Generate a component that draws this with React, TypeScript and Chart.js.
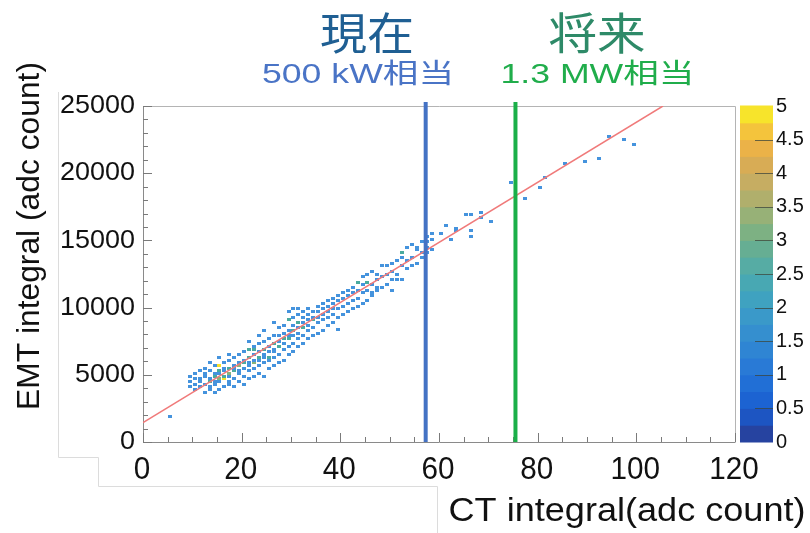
import { useEffect, useRef } from "react";
import { Chart, registerables } from "chart.js";

Chart.register(...registerables);

// ---- axis tick values / labels ----
const xTickValues = [0, 20, 40, 60, 80, 100, 120];
const xTickLabels = ["0", "20", "40", "60", "80", "100", "120"];
const yTickValues = [0, 5000, 10000, 15000, 20000, 25000];
const yTickLabels = ["0", "5000", "10000", "15000", "20000", "25000"];
const zTickValues = [0, 0.5, 1, 1.5, 2, 2.5, 3, 3.5, 4, 4.5, 5];
const zTickLabels = ["0", "0.5", "1", "1.5", "2", "2.5", "3", "3.5", "4", "4.5", "5"];

// colour palette of the z axis (20 contour bands, bottom to top)
const paletteBands = [
  "#2643a0", "#1d55c2", "#1c63d2", "#216fd6", "#297ad6",
  "#2f85d3", "#358fcf", "#3a99c9", "#3fa2c0", "#48a8b3",
  "#56aca4", "#66ae93", "#7db183", "#97b177", "#b0af6c",
  "#c6ad62", "#d8ac55", "#ebb248", "#f4c43c", "#f7e42b",
];
const countColors = ["#ffffff", "#4593dd", "#4aab9f", "#86b47c", "#dfac4c", "#f6e12b"];

// fit line
const fitCT = [0, 105.4];
const fitEMT = [1450, 25000];

// marker lines
const currentCT = 57.3;
const futureCT = 75.5;
const markerTop = 25300;

// 2D histogram bins: [CT integral, EMT integral, entries]
const bins: [number, number, number][] = [
  [5.5, 1900, 1],
  [9.5, 4100, 1], [9.5, 4500, 1], [9.5, 4900, 1],
  [10.5, 3900, 1], [10.5, 4300, 1], [10.5, 4700, 1], [10.5, 5100, 1],
  [11.5, 4100, 1], [11.5, 4500, 1], [11.5, 4700, 1], [11.5, 5300, 1],
  [12.5, 3700, 1], [12.5, 4300, 1], [12.5, 4900, 1], [12.5, 5100, 1], [12.5, 5500, 1],
  [13.5, 3900, 1], [13.5, 4100, 1], [13.5, 4500, 2], [13.5, 4700, 1], [13.5, 5300, 1], [13.5, 5900, 1],
  [14.5, 3700, 1], [14.5, 4300, 1], [14.5, 4500, 1], [14.5, 4900, 2], [14.5, 5100, 1], [14.5, 5700, 1],
  [15.5, 3900, 1], [15.5, 4500, 1], [15.5, 4700, 3], [15.5, 5100, 1], [15.5, 5300, 2], [15.5, 5700, 5], [15.5, 6300, 1],
  [16.5, 4100, 1], [16.5, 4700, 5], [16.5, 4900, 2], [16.5, 5300, 1], [16.5, 5500, 1], [16.5, 5900, 1],
  [17.5, 4300, 1], [17.5, 4500, 1], [17.5, 4900, 1], [17.5, 5100, 3], [17.5, 5500, 2], [17.5, 6100, 1], [17.5, 6500, 1],
  [18.5, 4100, 1], [18.5, 4700, 1], [18.5, 5300, 2], [18.5, 5500, 1], [18.5, 5700, 1], [18.5, 6300, 1],
  [19.5, 4500, 1], [19.5, 5100, 1], [19.5, 5300, 1], [19.5, 5700, 3], [19.5, 5900, 1], [19.5, 6500, 1],
  [20.5, 4300, 1], [20.5, 4900, 1], [20.5, 5500, 1], [20.5, 5900, 2], [20.5, 6100, 1], [20.5, 6700, 1],
  [21.5, 4700, 1], [21.5, 5300, 1], [21.5, 5700, 1], [21.5, 5900, 1], [21.5, 6300, 2], [21.5, 6900, 2], [21.5, 7500, 1],
  [22.5, 4900, 1], [22.5, 5500, 1], [22.5, 5900, 3], [22.5, 6100, 1], [22.5, 6500, 1], [22.5, 6900, 2], [22.5, 7100, 1],
  [23.5, 5100, 1], [23.5, 5700, 1], [23.5, 6100, 1], [23.5, 6300, 2], [23.5, 6700, 1], [23.5, 7300, 1], [23.5, 7900, 1],
  [24.5, 4900, 1], [24.5, 5900, 1], [24.5, 6300, 1], [24.5, 6500, 1], [24.5, 6900, 2], [24.5, 7500, 1], [24.5, 8300, 1],
  [25.5, 5500, 1], [25.5, 6100, 1], [25.5, 6300, 2], [25.5, 6700, 1], [25.5, 7100, 1], [25.5, 7700, 1],
  [26.5, 5700, 1], [26.5, 6300, 1], [26.5, 6700, 1], [26.5, 6900, 1], [26.5, 7300, 2], [26.5, 7900, 1], [26.5, 8900, 1],
  [27.5, 5900, 1], [27.5, 6500, 1], [27.5, 7100, 2], [27.5, 7500, 1], [27.5, 7900, 1], [27.5, 8500, 1],
  [28.5, 6100, 1], [28.5, 6900, 1], [28.5, 7300, 1], [28.5, 7700, 2], [28.5, 8100, 1], [28.5, 8700, 1],
  [29.5, 6500, 1], [29.5, 7100, 1], [29.5, 7700, 2], [29.5, 7900, 1], [29.5, 8300, 1], [29.5, 9100, 2], [29.5, 9700, 1],
  [30.5, 6700, 1], [30.5, 7300, 1], [30.5, 7900, 1], [30.5, 8300, 2], [30.5, 8700, 1], [30.5, 9300, 1], [30.5, 9900, 1],
  [31.5, 7100, 1], [31.5, 7700, 1], [31.5, 8100, 1], [31.5, 8500, 1], [31.5, 8900, 2], [31.5, 9500, 1], [31.5, 9900, 1],
  [32.5, 7300, 1], [32.5, 7900, 1], [32.5, 8500, 2], [32.5, 8900, 1], [32.5, 9300, 1], [32.5, 9700, 1],
  [33.5, 7700, 1], [33.5, 8300, 1], [33.5, 8700, 1], [33.5, 9100, 1], [33.5, 9500, 1], [33.5, 9900, 1],
  [34.5, 7900, 1], [34.5, 8500, 1], [34.5, 9100, 2], [34.5, 9300, 1], [34.5, 9700, 1],
  [35.5, 8100, 1], [35.5, 8900, 1], [35.5, 9300, 1], [35.5, 9700, 1], [35.5, 10100, 1],
  [36.5, 8300, 1], [36.5, 9100, 1], [36.5, 9500, 1], [36.5, 9900, 1], [36.5, 10300, 1],
  [37.5, 8700, 1], [37.5, 9300, 1], [37.5, 9700, 1], [37.5, 10100, 1], [37.5, 10500, 1],
  [38.5, 8900, 1], [38.5, 9500, 1], [38.5, 9900, 1], [38.5, 10300, 1], [38.5, 10700, 1],
  [39.5, 8400, 1], [39.5, 9300, 1], [39.5, 9900, 1], [39.5, 10500, 1], [39.5, 10900, 1],
  [40.5, 9500, 1], [40.5, 10100, 1], [40.5, 10700, 1], [40.5, 11100, 1],
  [41.5, 9700, 1], [41.5, 10300, 1], [41.5, 10900, 1], [41.5, 11300, 1],
  [42.5, 9900, 1], [42.5, 10500, 1], [42.5, 11100, 1], [42.5, 11500, 1],
  [43.5, 10100, 1], [43.5, 10700, 1], [43.5, 11300, 1], [43.5, 11900, 2],
  [44.5, 10300, 1], [44.5, 11100, 1], [44.5, 11700, 1], [44.5, 12300, 1],
  [45.5, 10500, 1], [45.5, 11300, 1], [45.5, 11900, 2], [45.5, 12500, 1],
  [46.5, 10900, 1], [46.5, 11100, 1], [46.5, 11700, 1], [46.5, 12700, 1],
  [47.5, 11300, 1], [47.5, 11500, 1], [47.5, 12100, 1], [47.5, 12500, 1],
  [48.5, 11500, 1], [48.5, 12300, 1], [48.5, 13100, 1],
  [49.5, 11700, 1], [49.5, 12500, 1], [49.5, 13100, 1],
  [50.5, 11300, 1], [50.5, 12100, 1], [50.5, 12700, 1], [50.5, 13300, 1],
  [51.5, 12100, 1], [51.5, 12500, 1], [51.5, 13500, 1],
  [52.5, 12100, 1], [52.5, 13100, 1], [52.5, 13700, 1], [52.5, 14100, 2],
  [53.5, 12900, 1], [53.5, 13500, 1], [53.5, 14500, 1],
  [54.5, 13100, 1], [54.5, 13700, 1], [54.5, 14700, 1],
  [55.5, 13300, 1], [55.5, 14300, 1], [55.5, 14500, 1],
  [56.5, 13700, 1], [56.5, 14100, 1], [56.5, 14900, 1],
  [57.5, 14100, 1], [57.5, 14500, 1], [57.5, 14900, 1], [57.5, 15300, 1],
  [58.5, 14300, 1], [58.5, 15100, 1], [58.5, 15500, 1],
  [60.5, 15500, 1], [61.5, 16100, 1], [62.5, 15100, 1], [63.5, 15700, 1], [63.5, 15900, 1],
  [65.5, 16900, 1], [66.5, 16900, 1], [66.5, 15700, 1], [66.5, 15300, 1],
  [68.5, 17100, 1], [68.5, 16700, 1], [70.5, 16400, 1],
  [74.5, 19300, 1], [77.5, 18100, 1], [80.5, 18900, 1], [81.5, 19700, 1],
  [85.5, 20700, 1], [89.5, 20900, 1], [92.5, 21100, 1],
  [94.5, 22700, 1], [97.5, 22500, 1], [99.5, 22100, 1],
];

function drawText(
  ctx: CanvasRenderingContext2D,
  s: string,
  x: number,
  y: number,
  font: string,
  color: string,
  align: CanvasTextAlign,
  targetW?: number,
  rotate?: number
) {
  ctx.save();
  ctx.font = font;
  ctx.fillStyle = color;
  ctx.textBaseline = "middle";
  ctx.textAlign = align;
  const w = ctx.measureText(s).width;
  const sx = targetW ? targetW / w : 1;
  ctx.translate(x, y);
  if (rotate) ctx.rotate(rotate);
  ctx.scale(sx, 1);
  ctx.fillText(s, 0, 0);
  ctx.restore();
}

const decorPlugin = {
  id: "decor",
  beforeDraw(chart: any) {
    const ctx: CanvasRenderingContext2D = chart.ctx;
    ctx.save();
    ctx.fillStyle = "#ffffff";
    ctx.fillRect(0, 0, chart.width, chart.height);
    // faint frame remnants of the pasted picture
    ctx.strokeStyle = "#dcdcdc";
    ctx.lineWidth = 1;
    ctx.beginPath();
    ctx.moveTo(58.5, 92);
    ctx.lineTo(58.5, 457.5);
    ctx.lineTo(98.5, 457.5);
    ctx.lineTo(98.5, 486.5);
    ctx.lineTo(437.5, 486.5);
    ctx.lineTo(437.5, 533);
    ctx.stroke();
    ctx.restore();
  },
  beforeDatasetsDraw(chart: any) {
    const ctx: CanvasRenderingContext2D = chart.ctx;
    const xs = chart.scales.x;
    const ys = chart.scales.y;
    const zs = chart.scales.z;
    const { left, right, top, bottom } = chart.chartArea;
    ctx.save();
    // frame
    ctx.lineWidth = 1;
    ctx.strokeStyle = "#b4b4b4";
    ctx.beginPath();
    ctx.moveTo(left, top + 0.5);
    ctx.lineTo(right + 0.5, top + 0.5);
    ctx.lineTo(right + 0.5, bottom);
    ctx.stroke();
    ctx.strokeStyle = "#8a8a8a";
    ctx.beginPath();
    ctx.moveTo(left + 0.5, top);
    ctx.lineTo(left + 0.5, bottom + 0.5);
    ctx.lineTo(right + 0.5, bottom + 0.5);
    ctx.stroke();
    // inward ticks
    ctx.strokeStyle = "#7a7a7a";
    ctx.beginPath();
    for (let v = xs.min; v <= xs.max; v += 5) {
      const px = Math.round(xs.getPixelForValue(v)) + 0.5;
      const len = v % 20 === 0 ? 9 : 5;
      ctx.moveTo(px, bottom);
      ctx.lineTo(px, bottom - len);
    }
    for (let v = ys.min; v <= ys.max; v += 1000) {
      const py = Math.round(ys.getPixelForValue(v)) + 0.5;
      const len = v % 5000 === 0 ? 9 : 5;
      ctx.moveTo(left, py);
      ctx.lineTo(left + len, py);
    }
    ctx.stroke();
    // colour bar
    const barL = 740;
    const barR = 773;
    const n = paletteBands.length;
    for (let i = 0; i < n; i++) {
      const v0 = (i * (zs.max - zs.min)) / n;
      const v1 = ((i + 1) * (zs.max - zs.min)) / n;
      const y0 = zs.getPixelForValue(v0);
      const y1 = zs.getPixelForValue(v1);
      ctx.fillStyle = paletteBands[i];
      ctx.fillRect(barL, y1 - 0.5, barR - barL, y0 - y1 + 1);
    }
    ctx.strokeStyle = "rgba(60,70,60,0.75)";
    ctx.beginPath();
    zTickValues.forEach((v) => {
      if (v === zs.min || v === zs.max) return;
      const py = Math.round(zs.getPixelForValue(v)) + 0.5;
      ctx.moveTo(755, py);
      ctx.lineTo(barR, py);
    });
    ctx.stroke();
    ctx.restore();
  },
  afterDraw(chart: any) {
    const ctx: CanvasRenderingContext2D = chart.ctx;
    const xs = chart.scales.x;
    const ys = chart.scales.y;
    const zs = chart.scales.z;
    const sans = '"Liberation Sans", Arial, sans-serif';
    const cjk = '"Liberation Sans", "Noto Sans CJK JP", sans-serif';
    // tick labels
    xTickValues.forEach((v, i) => {
      const s = xTickLabels[i];
      drawText(ctx, s, xs.getPixelForValue(v) - 1, 470, `31px ${sans}`, "#111", "center", 16.5 * s.length);
    });
    yTickValues.forEach((v, i) => {
      const s = yTickLabels[i];
      drawText(ctx, s, 135, ys.getPixelForValue(v), `26px ${sans}`, "#111", "right", 15 * s.length);
    });
    zTickValues.forEach((v, i) => {
      drawText(ctx, zTickLabels[i], 776, zs.getPixelForValue(v), `20px ${sans}`, "#111", "left");
    });
    // axis titles
    drawText(ctx, "EMT integral (adc count)", 30, 236, `32px ${sans}`, "#111", "center", 348, -Math.PI / 2);
    drawText(ctx, "CT integral(adc count)", 627, 512, `34px ${sans}`, "#111", "center", 357);
    // headings
    drawText(ctx, "現在", 367, 33, `44px "Noto Sans CJK JP", sans-serif`, "#1f5f93", "center", 94);
    drawText(ctx, "将来", 597, 33, `44px "Noto Sans CJK JP", sans-serif`, "#2e8a68", "center", 97);
    drawText(ctx, "500 kW相当", 358, 76, `27px ${cjk}`, "#4a74c6", "center", 192);
    drawText(ctx, "1.3 MW相当", 597.5, 76, `27px ${cjk}`, "#20ad4b", "center", 194);
  },
};

function rectImage(color: string): HTMLCanvasElement {
  const c = document.createElement("canvas");
  c.width = 4;
  c.height = 3;
  const g = c.getContext("2d")!;
  g.fillStyle = color;
  g.fillRect(0, 0, 4, 3);
  return c;
}

export default function App() {
  const ref = useRef<HTMLCanvasElement | null>(null);

  useEffect(() => {
    document.body.style.margin = "0";
    const canvas = ref.current;
    if (!canvas) return;
    const images = countColors.map((c) => rectImage(c));
    const points = bins.map(([x, y, c]) => ({ x, y, c }));

    const chart = new Chart(canvas, {
      type: "scatter",
      data: {
        datasets: [
          {
            label: "current",
            data: [
              { x: currentCT, y: 0 },
              { x: currentCT, y: markerTop },
            ],
            showLine: true,
            borderColor: "#4472c4",
            borderWidth: 4,
            pointRadius: 0,
            clip: false as any,
            order: 0,
          },
          {
            label: "future",
            data: [
              { x: futureCT, y: 0 },
              { x: futureCT, y: markerTop },
            ],
            showLine: true,
            borderColor: "#1aaf48",
            borderWidth: 4,
            pointRadius: 0,
            clip: false as any,
            order: 0,
          },
          {
            label: "fit",
            data: fitCT.map((x, i) => ({ x, y: fitEMT[i] })),
            showLine: true,
            borderColor: "#f07a7a",
            borderWidth: 1.5,
            pointRadius: 0,
            order: 1,
          },
          {
            label: "bins",
            data: points as any,
            pointStyle: ((ctx: any) => {
              const p = ctx.raw;
              return images[p ? Math.min(5, p.c) : 1];
            }) as any,
            pointRadius: 2,
            order: 2,
          },
        ],
      },
      options: {
        animation: false,
        responsive: false,
        devicePixelRatio: 1,
        layout: { padding: { top: 106, left: 0, right: 0, bottom: 0 } },
        plugins: {
          legend: { display: false },
          tooltip: { enabled: false },
        },
        events: [],
        scales: {
          x: {
            type: "linear",
            min: 0,
            max: 120,
            ticks: { display: false, stepSize: 20 },
            grid: { display: false },
            border: { display: false },
            afterFit: (s: any) => {
              s.height = 91;
            },
          },
          y: {
            type: "linear",
            min: 0,
            max: 25000,
            ticks: { display: false, stepSize: 5000 },
            grid: { display: false },
            border: { display: false },
            afterFit: (s: any) => {
              s.width = 143;
            },
          },
          z: {
            type: "linear",
            position: "right",
            min: 0,
            max: 5,
            ticks: { display: false, stepSize: 0.5 },
            grid: { display: false },
            border: { display: false },
            afterFit: (s: any) => {
              s.width = 75;
            },
          },
        },
      },
      plugins: [decorPlugin],
    });
    return () => chart.destroy();
  }, []);

  return (
    <div style={{ width: 810, height: 533 }}>
      <canvas ref={ref} width={810} height={533} style={{ display: "block" }} />
    </div>
  );
}
